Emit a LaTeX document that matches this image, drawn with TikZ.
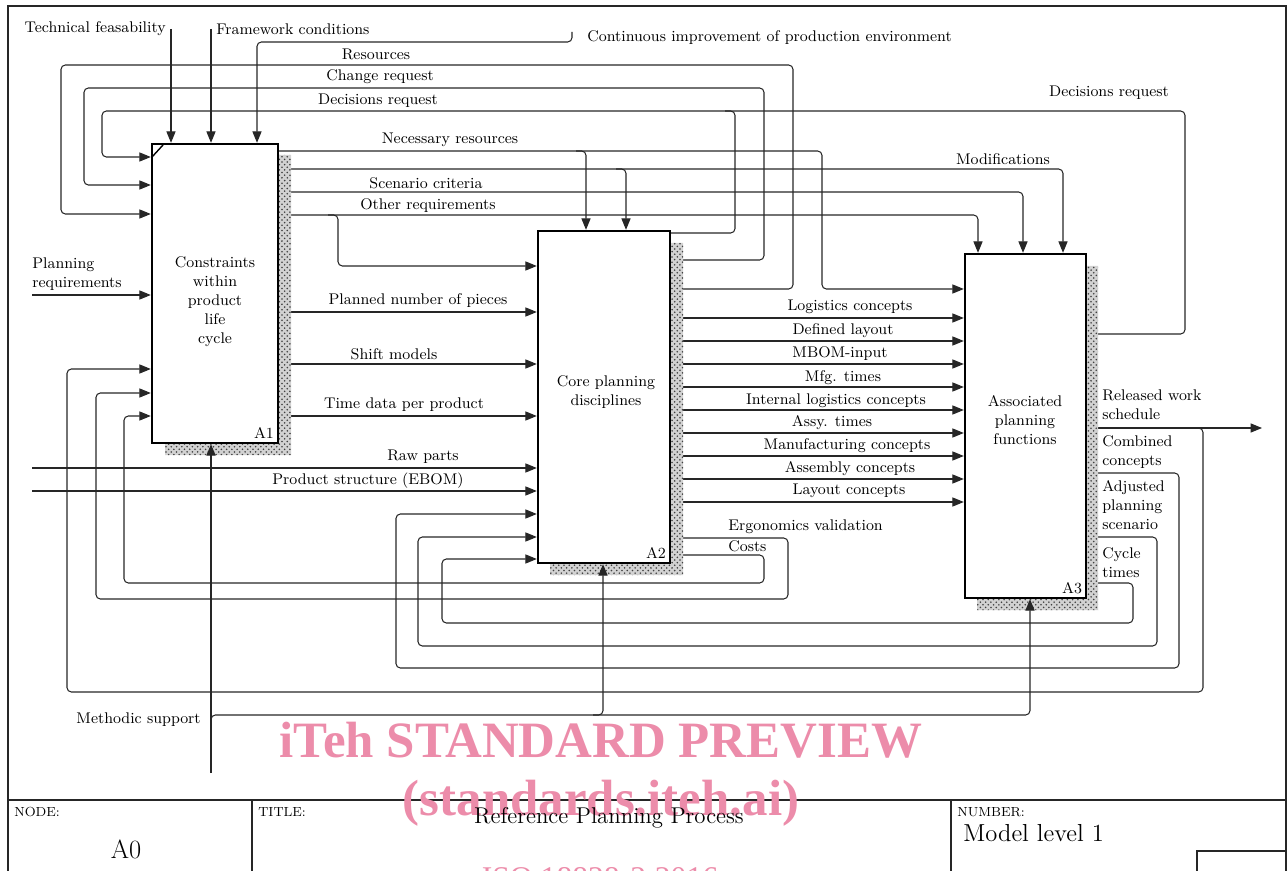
\documentclass[tikz,border=0pt]{standalone}
\usepackage{fontspec}
\usetikzlibrary{arrows.meta,patterns}
\newfontfamily\wmfont{Liberation Serif}
\definecolor{wmpink}{RGB}{236,140,170}
\newcommand{\lblfont}{\fontsize{8.8}{10.8}\selectfont}
\tikzset{
  proc/.style={draw, line width=1.4pt, fill=white, inner sep=0pt},
  flow/.style={draw=black!85, line width=0.6pt, rounded corners=2.5pt, -{Triangle[length=6.5pt,width=5.2pt]}},
  link/.style={draw=black!85, line width=0.6pt, rounded corners=2.5pt},
  lbl/.style={inner sep=0pt, font=\lblfont},
  boxshadow/.style={fill=gray!35, postaction={pattern=crosshatch dots, pattern color=black!75}},
  frame/.style={draw=black!85, line width=0.6pt},
}
\begin{document}
\begin{tikzpicture}[x=0.02cm, y=-0.02cm]
\useasboundingbox (0,0) rectangle (1288,871);
\clip (0,0) rectangle (1288,871);

% frame and title block
\draw[frame] (8,880) -- (8,6) -- (1286,6) -- (1286,880);
\draw[frame] (8,800) -- (1286,800);
\draw[frame] (252,800) -- (252,880);
\draw[frame] (951,800) -- (951,880);
\draw[frame] (1197,880) -- (1197,851) -- (1286,851);

% activities
\node[proc, minimum width=2.52cm, minimum height=5.98cm] (A1) at (215,293.5) {};
\node[proc, minimum width=2.64cm, minimum height=6.64cm] (A2) at (604,397) {};
\node[proc, minimum width=2.42cm, minimum height=6.88cm] (A3) at (1025.5,426) {};
\node[lbl, align=center] (A1txt) at (215,302) {Constraints\\within\\product\\life\\cycle};
\node[lbl, align=center] (A2txt) at (606,392) {Core planning\\disciplines};
\node[lbl, align=center] (A3txt) at (1025,420) {Associated\\planning\\functions};
\draw[line width=0.8pt] (152,157) -- (163,145);

% free ends
\coordinate (tf) at (171,29);
\coordinate (fc) at (211,29);
\coordinate (ci) at (572,32);
\coordinate (pr) at (32,295);
\coordinate (rp) at (32,468);
\coordinate (eb) at (32,491);
\coordinate (ms) at (211,773);
\coordinate (rw) at (1262,428);

% controls of A1
\draw[flow] (tf) -- (A1.north -| tf);
\draw[flow] (fc) -- (A1.north -| fc);
\draw[flow] (ci) -- (572,42) -- (257,42) -- (A1.north -| 257,0);

% feedback into A1
\draw[flow] (A2.east |- 0,289) -- (793,289) -- (793,65) -- (61,65) -- (61,214) -- (A1.west |- 0,214);
\draw[flow] (A2.east |- 0,260) -- (764,260) -- (764,88) -- (84,88) -- (84,185) -- (A1.west |- 0,185);
\draw[flow] (A3.east |- 0,334) -- (1185,334) -- (1185,111) -- (102,111) -- (102,157) -- (A1.west |- 0,157);
\draw[link] (A2.east |- 0,233) -- (735,233) -- (735,111) -- (725,111);
\draw[flow] (pr) -- (A1.west |- pr);
\draw[flow] (1193,428) -- (1203,428) -- (1203,692) -- (67,692) -- (67,369) -- (A1.west |- 0,369);
\draw[flow] (A2.east |- 0,538) -- (788,538) -- (788,599) -- (96,599) -- (96,393) -- (A1.west |- 0,393);
\draw[flow] (A2.east |- 0,555) -- (764,555) -- (764,583) -- (124,583) -- (124,416) -- (A1.west |- 0,416);

% outputs of A1
\draw[flow] (A1.east |- 0,151) -- (586,151) -- (A2.north -| 586,0);
\draw[flow] (576,151) -- (822,151) -- (822,289) -- (A3.west |- 0,289);
\draw[flow] (A1.east |- 0,169) -- (626,169) -- (A2.north -| 626,0);
\draw[flow] (616,169) -- (1063,169) -- (A3.north -| 1063,0);
\draw[flow] (A1.east |- 0,192) -- (1023,192) -- (A3.north -| 1023,0);
\draw[flow] (A1.east |- 0,215) -- (978,215) -- (A3.north -| 978,0);
\draw[flow] (328,215) -- (338,215) -- (338,266) -- (A2.west |- 0,266);
\foreach \yy in {312,364,416}
  \draw[flow] (A1.east |- 0,\yy) -- (A2.west |- 0,\yy);
\draw[flow] (rp) -- (A2.west |- rp);
\draw[flow] (eb) -- (A2.west |- eb);

% outputs of A2
\foreach \yy in {318,341,364,387,410,433,456,479,502}
  \draw[flow] (A2.east |- 0,\yy) -- (A3.west |- 0,\yy);

% outputs of A3
\draw[flow] (A3.east |- rw) -- (rw);
\draw[flow] (A3.east |- 0,473) -- (1179,473) -- (1179,668) -- (396,668) -- (396,514) -- (A2.west |- 0,514);
\draw[flow] (A3.east |- 0,537) -- (1157,537) -- (1157,646) -- (418,646) -- (418,537) -- (A2.west |- 0,537);
\draw[flow] (A3.east |- 0,583) -- (1133,583) -- (1133,623) -- (442,623) -- (442,559) -- (A2.west |- 0,559);

% shadows
\fill[boxshadow] (279,155) -- (291,155) -- (291,455) -- (165,455) -- (165,444) -- (279,444) -- cycle;
\fill[boxshadow] (671,243) -- (683,243) -- (683,575) -- (550,575) -- (550,564) -- (671,564) -- cycle;
\fill[boxshadow] (1087,266) -- (1098,266) -- (1098,610) -- (977,610) -- (977,599) -- (1087,599) -- cycle;

% mechanisms
\draw[flow] (ms) -- (A1.south -| ms);
\draw[flow] (211,725) -- (211,715) -- (603,715) -- (A2.south -| 603,0);
\draw[flow] (593,715) -- (1030,715) -- (A3.south -| 1030,0);

% numbers
\node[lbl] (A1num) at (264,433) {A1};
\node[lbl] (A2num) at (656,553) {A2};
\node[lbl] (A3num) at (1072,588) {A3};

% labels
\node[lbl, anchor=east] (ltf) at (166,29) {Technical feasability};
\node[lbl, anchor=west] (lfc) at (216,29) {Framework conditions};
\node[lbl, anchor=west] (lci) at (587,38) {Continuous improvement of production environment};
\node[lbl] (lres) at (376,54) {Resources};
\node[lbl] (lchg) at (380,77) {Change request};
\node[lbl] (ldec) at (378,101) {Decisions request};
\node[lbl] (ldec3) at (1109,93) {Decisions request};
\node[lbl] (lnec) at (450,140) {Necessary resources};
\node[lbl] (lmod) at (1003,159) {Modifications};
\node[lbl] (lscn) at (426,183) {Scenario criteria};
\node[lbl] (loth) at (428,206) {Other requirements};
\node[lbl, anchor=north west, align=left] (lpr) at (32,257) {Planning\\requirements};
\node[lbl] (lpnp) at (418,301) {Planned number of pieces};
\node[lbl] (lshf) at (394,354) {Shift models};
\node[lbl] (ltdp) at (404,405) {Time data per product};
\node[lbl] (lraw) at (423,457) {Raw parts};
\node[lbl] (lebm) at (368,481) {Product structure (EBOM)};
\foreach \xx/\yy/\txt [count=\i] in {850/307/Logistics concepts, 843/331/Defined layout,
    840/354/MBOM-input, 843/378/Mfg. times, 836/401/Internal logistics concepts,
    832/423/Assy. times, 847/446/Manufacturing concepts, 850/469/Assembly concepts,
    849/491/Layout concepts}
  \node[lbl] (lout\i) at (\xx,\yy) {\txt};
\node[lbl, anchor=west] (lerg) at (728,527) {Ergonomics validation};
\node[lbl, anchor=west] (lcst) at (728,546) {Costs};
\node[lbl, anchor=north west, align=left] (lrws) at (1102,389) {Released work\\schedule};
\node[lbl, anchor=north west, align=left] (lcmb) at (1102,435) {Combined\\concepts};
\node[lbl, anchor=north west, align=left] (ladj) at (1102,480) {Adjusted\\planning\\scenario};
\node[lbl, anchor=north west, align=left] (lcyc) at (1102,547) {Cycle\\times};
\node[lbl, anchor=east] (lms) at (201,720) {Methodic support};

% watermark
\node[inner sep=0pt, text=wmpink, font=\wmfont\bfseries\fontsize{29}{30}\selectfont] (wm1) at (601,740) {iTeh STANDARD PREVIEW};
\node[inner sep=0pt, text=wmpink, font=\wmfont\bfseries\fontsize{29}{30}\selectfont] (wm2) at (601,803) {(standards.iteh.ai)};
\node[inner sep=0pt, text=wmpink, font=\wmfont\fontsize{18}{20}\selectfont] (wm3) at (600,878) {ISO 18828-2:2016};

% title block texts
\node[inner sep=0pt, anchor=west, font=\fontsize{7.5}{9}\selectfont] (tnode) at (14,812) {NODE:};
\node[inner sep=0pt, font=\fontsize{15}{17}\selectfont] (tnum) at (126,849) {A0};
\node[inner sep=0pt, anchor=west, font=\fontsize{7.5}{9}\selectfont] (ttit) at (258,812) {TITLE:};
\node[inner sep=0pt, font=\fontsize{13}{15}\selectfont] (ttxt) at (609,818) {Reference Planning Process};
\node[inner sep=0pt, anchor=west, font=\fontsize{7.5}{9}\selectfont] (tnmb) at (957,812) {NUMBER:};
\node[inner sep=0pt, anchor=west, font=\fontsize{14}{16}\selectfont] (tmod) at (963,833) {Model level 1};
\end{tikzpicture}
\end{document}
